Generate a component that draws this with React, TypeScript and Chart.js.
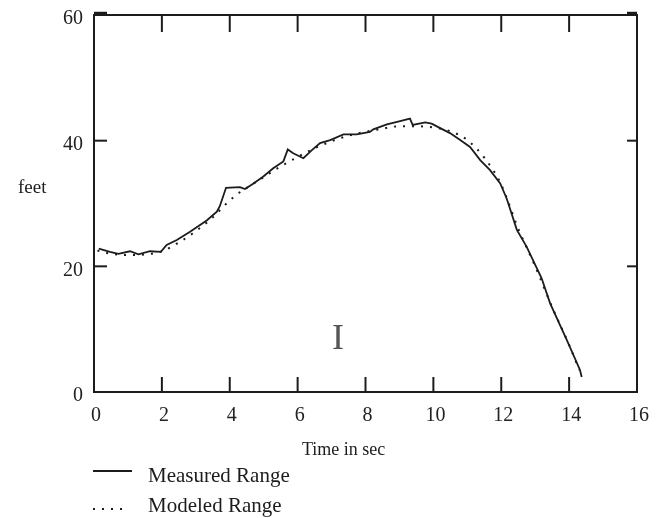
import React, { useEffect, useRef } from "react";
import { Chart, registerables } from "chart.js";

Chart.register(...registerables);

// ---- data ----
const measuredTime = [
  0.14, 0.47, 0.72, 1.06, 1.31, 1.65, 1.97, 2.14, 2.44, 2.83, 3.32, 3.62, 3.71,
  3.89, 4.3, 4.45, 4.7, 4.99, 5.28, 5.58, 5.71, 5.87, 6.17, 6.42, 6.66, 6.96,
  7.35, 7.74, 8.13, 8.23, 8.63, 9.02, 9.31, 9.39, 9.76, 9.95, 10.2, 10.49, 10.79,
  11.08, 11.38, 11.67, 11.97, 12.16, 12.46, 12.75, 13.19, 13.44, 13.93, 14.32, 14.37,
];
const measuredFeet = [
  22.8, 22.3, 22.0, 22.4, 21.9, 22.4, 22.3, 23.4, 24.2, 25.5, 27.3, 28.7, 29.6,
  32.5, 32.6, 32.3, 33.2, 34.3, 35.6, 36.7, 38.6, 38.0, 37.2, 38.5, 39.6, 40.1,
  41.0, 41.0, 41.4, 41.8, 42.6, 43.1, 43.5, 42.5, 42.9, 42.7, 42.0, 41.2, 40.1,
  39.0, 36.9, 35.3, 33.2, 30.8, 25.8, 23.1, 18.1, 14.1, 8.3, 3.5, 2.4,
];
const modeledTime = [
  0.1, 0.5, 1.0, 1.5, 2.0, 2.5, 3.0, 3.5, 3.96, 4.2, 4.5, 5.0, 5.5, 6.0, 6.5,
  7.0, 7.5, 8.0, 8.5, 9.0, 9.5, 10.0, 10.5, 11.0, 11.5, 12.0, 12.5, 13.0, 13.5,
  14.0, 14.3,
];
const modeledFeet = [
  22.5, 22.0, 21.8, 21.9, 22.4, 23.8, 25.6, 27.8, 30.3, 31.4, 32.5, 34.2, 35.9,
  37.4, 38.8, 39.9, 40.8, 41.4, 41.9, 42.3, 42.3, 42.1, 41.5, 40.1, 37.3, 33.0,
  26.0, 20.0, 13.5, 7.5, 3.5,
];
const xTicks = [0, 2, 4, 6, 8, 10, 12, 14, 16];
const yTicks = [0, 20, 40, 60];
const xTitle = "Time in sec";
const yTitle = "feet";
const legendLabels = ["Measured Range", "Modeled Range"];
const cursorGlyph = "I";

const INK = "#1c1c1c";
const SERIF = "'Liberation Serif', 'Times New Roman', serif";

const decorPlugin = {
  id: "decor",
  afterDraw(chart: any) {
    const { ctx, chartArea: a, scales } = chart;
    const xs = scales.x;
    const ys = scales.y;
    const seg = (x1: number, y1: number, x2: number, y2: number, w = 2, dash: number[] = []) => {
      ctx.save();
      ctx.lineWidth = w;
      ctx.setLineDash(dash);
      ctx.beginPath();
      ctx.moveTo(x1, y1);
      ctx.lineTo(x2, y2);
      ctx.stroke();
      ctx.restore();
    };
    ctx.save();
    ctx.strokeStyle = INK;
    ctx.fillStyle = INK;
    // frame
    ctx.lineWidth = 2;
    ctx.strokeRect(a.left, a.top, a.right - a.left, a.bottom - a.top);
    // inward ticks
    xTicks.slice(1, -1).forEach((v) => {
      const px = xs.getPixelForValue(v);
      seg(px, a.bottom, px, a.bottom - 15);
      seg(px, a.top, px, a.top + 17);
    });
    yTicks.slice(1).forEach((v) => {
      const py = ys.getPixelForValue(v);
      const w = v === yTicks[yTicks.length - 1] ? 3.5 : 2;
      const off = v === yTicks[yTicks.length - 1] ? -1.5 : 0;
      seg(a.left, py + off, a.left + 13, py + off, w);
      seg(a.right, py + off, a.right - 10, py + off, w);
    });
    // axis titles
    ctx.textAlign = "left";
    ctx.textBaseline = "alphabetic";
    ctx.font = `19px ${SERIF}`;
    ctx.fillText(yTitle, 18, 193);
    ctx.font = `18px ${SERIF}`;
    ctx.fillText(xTitle, 302, 455);
    // legend
    seg(93, 471, 132, 471, 1.8);
    seg(93, 509, 128, 509, 2, [2, 7]);
    ctx.font = `21px ${SERIF}`;
    ctx.fillText(legendLabels[0], 148, 482);
    ctx.fillText(legendLabels[1], 148, 512);
    // text cursor glyph
    ctx.fillStyle = "#555";
    ctx.textAlign = "center";
    ctx.font = `36px ${SERIF}`;
    ctx.fillText(cursorGlyph, 338, 349);
    ctx.restore();
  },
};

export default function App() {
  const ref = useRef<HTMLCanvasElement | null>(null);
  useEffect(() => {
    if (!ref.current) return;
    const tickFont = { family: SERIF, size: 20 };
    const chart = new Chart(ref.current, {
      type: "line",
      data: {
        datasets: [
          {
            label: legendLabels[1],
            data: modeledTime.map((t, i) => ({ x: t, y: modeledFeet[i] })),
            borderColor: INK,
            borderWidth: 2,
            borderDash: [2, 7],
            pointRadius: 0,
            cubicInterpolationMode: "monotone",
            fill: false,
          },
          {
            label: legendLabels[0],
            data: measuredTime.map((t, i) => ({ x: t, y: measuredFeet[i] })),
            borderColor: INK,
            borderWidth: 1.8,
            pointRadius: 0,
            tension: 0,
            fill: false,
          },
        ],
      },
      options: {
        responsive: false,
        animation: false,
        devicePixelRatio: 1,
        layout: { padding: { top: 15, right: 20, left: 0, bottom: 0 } },
        plugins: { legend: { display: false }, tooltip: { enabled: false } },
        scales: {
          x: {
            type: "linear",
            min: 0,
            max: 16,
            afterBuildTicks: (s: any) => {
              s.ticks = xTicks.map((v) => ({ value: v }));
            },
            grid: { display: false, drawTicks: false },
            border: { display: false },
            ticks: { font: tickFont, color: "#222", padding: 12, labelOffset: 2, maxRotation: 0 },
            afterFit: (s: any) => {
              s.height = 126;
              s.paddingLeft = 0;
              s.paddingRight = 0;
            },
          },
          y: {
            type: "linear",
            min: 0,
            max: 60,
            afterBuildTicks: (s: any) => {
              s.ticks = yTicks.map((v) => ({ value: v }));
            },
            grid: { display: false, drawTicks: false },
            border: { display: false },
            ticks: { font: tickFont, color: "#222", padding: 11, labelOffset: 4 },
            afterFit: (s: any) => {
              s.width = 94;
              s.paddingTop = 0;
              s.paddingBottom = 0;
            },
          },
        },
      } as any,
      plugins: [decorPlugin],
    });
    return () => chart.destroy();
  }, []);
  return (
    <div style={{ position: "absolute", left: 0, top: 0, width: 657, height: 518, background: "#fff" }}>
      <canvas ref={ref} width={657} height={518} style={{ display: "block" }} />
    </div>
  );
}
